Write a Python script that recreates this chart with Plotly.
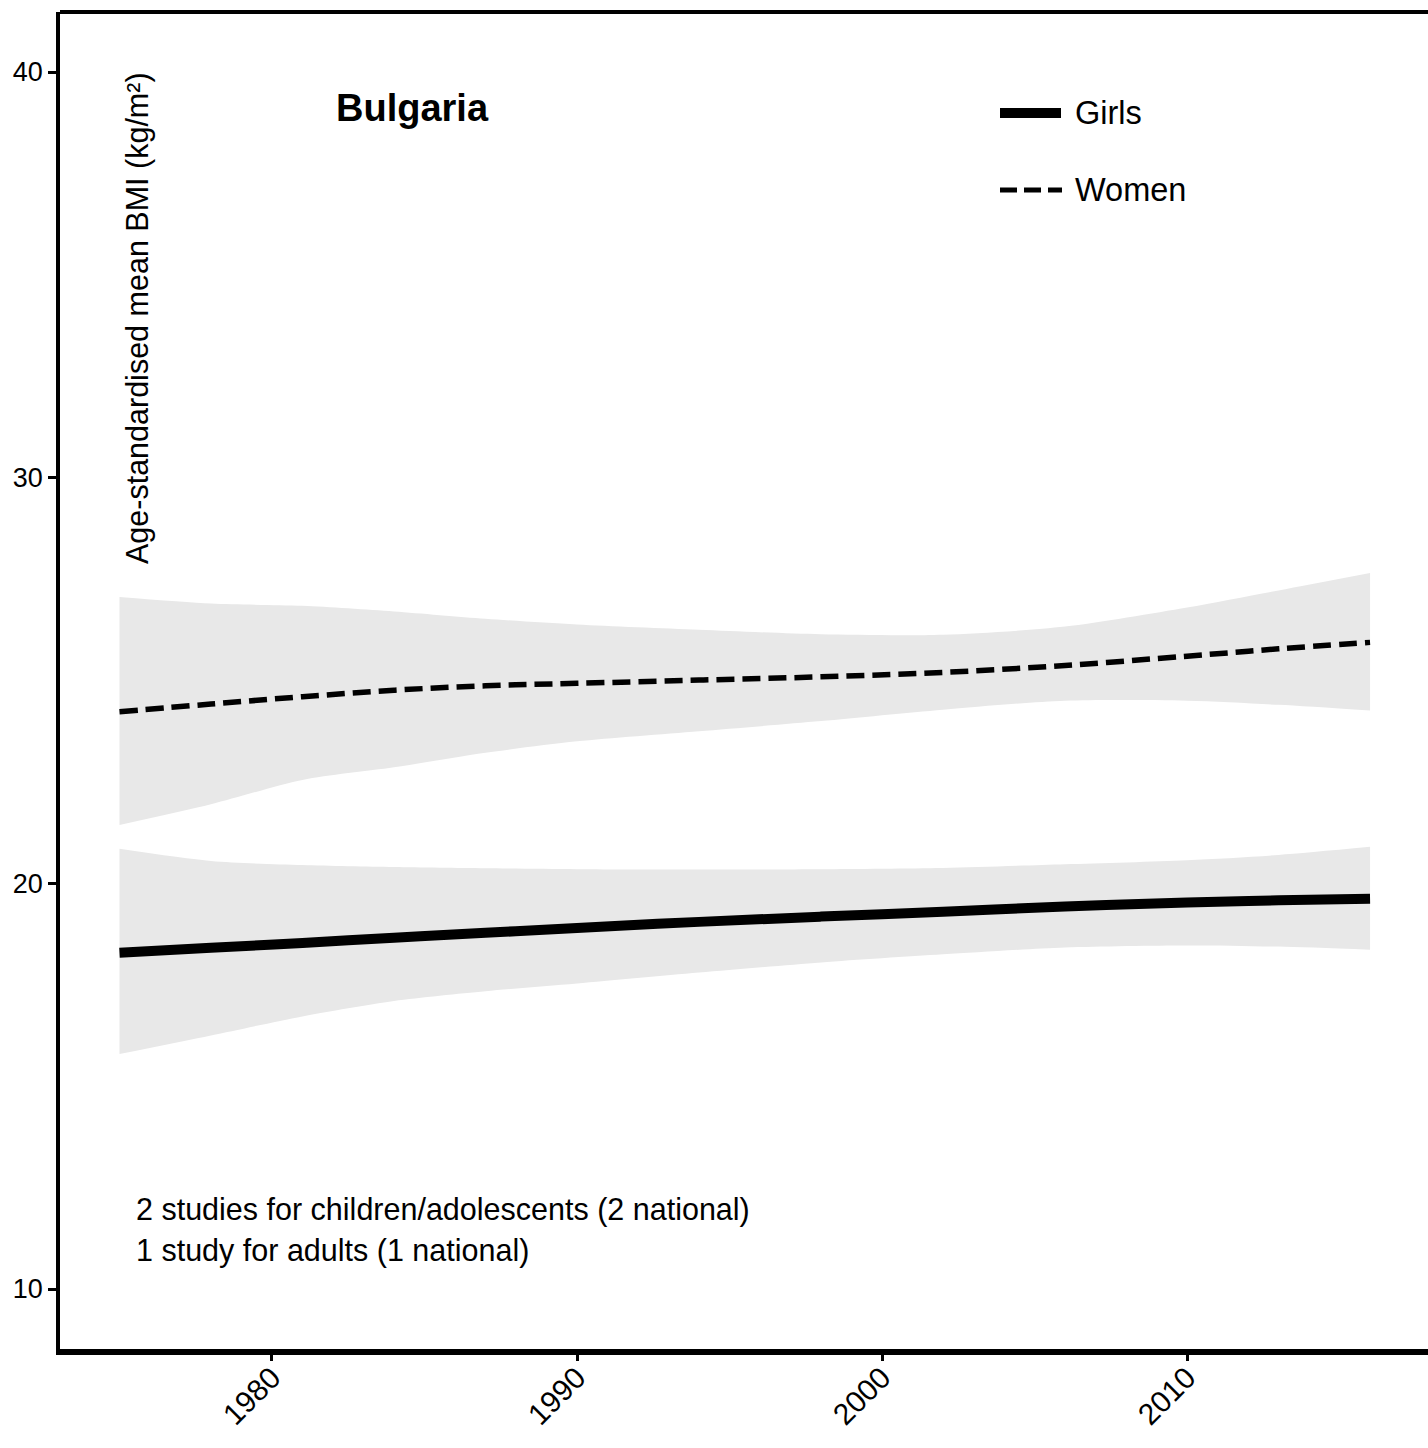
import plotly.graph_objects as go

years = [1975, 1978, 1981, 1984, 1987, 1990, 1994, 1998, 2002, 2006, 2010, 2013, 2016]

girls_mean = [18.29, 18.41, 18.53, 18.66, 18.78, 18.90, 19.05, 19.18, 19.30, 19.43, 19.53, 19.58, 19.62]
girls_upper = [20.85, 20.55, 20.45, 20.40, 20.37, 20.35, 20.34, 20.35, 20.38, 20.47, 20.57, 20.70, 20.90]
girls_lower = [15.79, 16.25, 16.72, 17.10, 17.34, 17.53, 17.80, 18.05, 18.25, 18.42, 18.47, 18.44, 18.36]

women_mean = [24.23, 24.42, 24.60, 24.76, 24.87, 24.93, 25.01, 25.09, 25.20, 25.37, 25.60, 25.78, 25.94]
women_upper = [27.06, 26.90, 26.84, 26.70, 26.52, 26.38, 26.25, 26.14, 26.13, 26.33, 26.80, 27.22, 27.65]
women_lower = [21.44, 21.95, 22.55, 22.86, 23.22, 23.50, 23.75, 24.00, 24.28, 24.50, 24.50, 24.40, 24.26]

x_ticks = [1980, 1990, 2000, 2010]
y_ticks = [10, 20, 30, 40]

country = "Bulgaria"
y_title = "Age-standardised mean BMI (kg/m²)"
note_lines = ["2 studies for children/adolescents (2 national)", "1 study for adults (1 national)"]
series_names = ["Girls", "Women"]

FONT = "Liberation Sans, Arial, Helvetica, sans-serif"
BAND = "#E8E8E8"

fig = go.Figure()

for upper, lower in [(women_upper, women_lower), (girls_upper, girls_lower)]:
    fig.add_trace(go.Scatter(x=years, y=upper, mode="lines", line=dict(width=0, shape="spline", smoothing=0.8),
                             hoverinfo="skip", showlegend=False))
    fig.add_trace(go.Scatter(x=years, y=lower, mode="lines", line=dict(width=0, shape="spline", smoothing=0.8),
                             fill="tonexty", fillcolor=BAND, hoverinfo="skip", showlegend=False))

fig.add_trace(go.Scatter(x=years, y=women_mean, mode="lines", name=series_names[1],
                         line=dict(color="black", width=5.5, dash="18px,8px", shape="spline"),
                         showlegend=False))
fig.add_trace(go.Scatter(x=years, y=girls_mean, mode="lines", name=series_names[0],
                         line=dict(color="black", width=10, shape="spline"),
                         showlegend=False))

L, R, T, B = 60, 0, 12, 99
W, H = 1428, 1448
pw, ph = W - L - R, H - T - B

def px(xp):
    return (xp - L) / pw

def py(yp):
    return (H - B - yp) / ph

shapes = [
    dict(type="line", xref="paper", yref="paper", x0=0, x1=1, y0=1, y1=1,
         line=dict(color="black", width=4)),
    # legend swatches
    dict(type="line", xref="paper", yref="paper", x0=px(1000), x1=px(1061), y0=py(113), y1=py(113),
         line=dict(color="black", width=10)),
    dict(type="line", xref="paper", yref="paper", x0=px(1000), x1=px(1062), y0=py(190), y1=py(190),
         line=dict(color="black", width=5, dash="17px,7px")),
]

annotations = [
    dict(text="<b>" + country + "</b>", xref="paper", yref="paper", x=px(334), y=py(108),
         xanchor="left", yanchor="middle", showarrow=False, font=dict(size=38, color="black", family=FONT)),
    dict(text=y_title, xref="paper", yref="paper", x=px(137), y=py(70), textangle=-90,
         xanchor="center", yanchor="top", showarrow=False, font=dict(size=30.5, color="black", family=FONT)),
    dict(text=series_names[0], xref="paper", yref="paper", x=px(1073), y=py(113),
         xanchor="left", yanchor="middle", showarrow=False, font=dict(size=32.5, color="black", family=FONT)),
    dict(text=series_names[1], xref="paper", yref="paper", x=px(1073), y=py(190),
         xanchor="left", yanchor="middle", showarrow=False, font=dict(size=32.5, color="black", family=FONT)),
    dict(text=note_lines[0], xref="paper", yref="paper", x=px(134), y=py(1209),
         xanchor="left", yanchor="middle", showarrow=False, font=dict(size=30.5, color="black", family=FONT)),
    dict(text=note_lines[1], xref="paper", yref="paper", x=px(134), y=py(1250),
         xanchor="left", yanchor="middle", showarrow=False, font=dict(size=30.5, color="black", family=FONT)),
]

fig.update_layout(
    width=W, height=H,
    margin=dict(l=L, r=R, t=T, b=B, pad=0),
    paper_bgcolor="white", plot_bgcolor="white",
    showlegend=False,
    shapes=shapes, annotations=annotations,
    font=dict(family=FONT, color="black"),
    xaxis=dict(range=[1973.05, 2017.9], tickvals=x_ticks, ticktext=[str(v) for v in x_ticks],
               tickangle=-45, ticks="outside", ticklen=6, tickwidth=3, tickcolor="black",
               ticklabelstandoff=-13,
               showline=True, linewidth=6, linecolor="black", showgrid=False, zeroline=False,
               tickfont=dict(size=30, color="black", family=FONT)),
    yaxis=dict(range=[8.521, 41.479], tickvals=y_ticks, ticktext=[str(v) for v in y_ticks],
               ticks="outside", ticklen=8, tickwidth=3, tickcolor="black",
               showline=True, linewidth=3.5, linecolor="black", showgrid=False, zeroline=False,
               tickfont=dict(size=27, color="black", family=FONT)),
)

fig.write_html("out.html", config={"displayModeBar": False},
               post_script="document.body.style.margin='0';document.body.style.overflow='hidden';")
